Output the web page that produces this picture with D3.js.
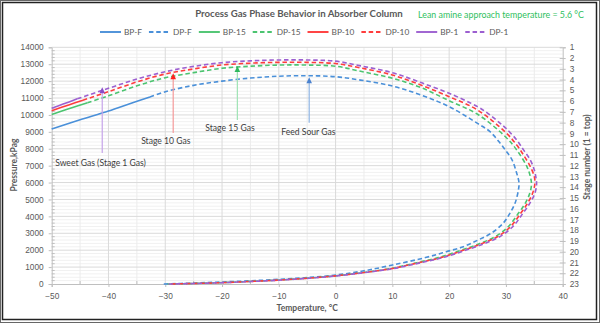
<!DOCTYPE html>
<html><head><meta charset="utf-8">
<script src="https://cdn.jsdelivr.net/npm/d3@7"></script>
<style>
body{margin:0;background:#fff;}
svg{display:block;font-family:Lato,"Liberation Sans",sans-serif;}
</style></head>
<body><svg id="c" width="600" height="323"></svg>
<script>
// ---------- data (temperature °C, pressure kPag) ----------
const seriesNames = ["BP-F","DP-F","BP-15","DP-15","BP-10","DP-10","BP-1","DP-1"];
const bpF = [[-50,9170],[-45,9710],[-40,10230],[-36,10690],[-32.7,11060]];
const dpF = [[-32.7,11060],[-30,11370],[-25,11750],[-20,12000],[-15,12180],[-10,12290],[-5,12320],[0,12260],[4.4,12060],[10,11710],[15,11180],[20,10490],[25,9500],[27.2,9010],[29,8320],[30,7880],[31.1,7330],[31.9,6550],[32.3,6000],[32.2,5560],[31.6,4773],[30.7,4182],[29.5,3590],[27.4,3000],[25.1,2602],[22.5,2206],[19.5,1910],[16,1577],[10,1120],[5,780],[0,530],[-5,380],[-10,275],[-15,190],[-20,120],[-25,55],[-30.4,0]];
const bp15 = [[-50,10030],[-47,10360],[-43.7,10720]];
const dp15 = [[-43.7,10720],[-40,11130],[-35,11720],[-30,12200],[-25,12500],[-20,12758],[-15,12880],[-10,12950],[-5,12950],[0,12880],[4.4,12580],[10,12170],[15,11620],[20,10840],[25,10040],[30,8680],[31.9,7930],[33.7,6940],[34.3,6350],[34.5,5900],[34.2,5365],[33.4,4773],[32.2,4182],[30.4,3389],[28.1,2798],[25.2,2366],[21.7,1950],[18.1,1560],[14.7,1290],[9.8,920],[4.9,680],[-0.1,480],[-5,345],[-10,235],[-15,155],[-20,82],[-25,32],[-29.6,0]];
const bp10 = [[-50,10250],[-47,10590],[-44.5,10870]];
const dp10 = [[-44.5,10870],[-40,11375],[-35,11950],[-30,12421],[-25,12720],[-20,12953],[-15,13060],[-10,13110],[-5,13110],[0,13040],[4.4,12780],[10,12360],[15,11770],[20,11080],[25,10290],[30,8950],[31.9,8220],[33.1,7630],[34.3,6940],[35,6350],[35.1,5950],[34.7,5365],[33.8,4773],[32.6,4182],[30.8,3389],[28.5,2798],[25.6,2366],[22.1,1950],[18.5,1560],[15,1290],[10,920],[5,680],[0,480],[-5,340],[-10,230],[-15,150],[-20,80],[-25,30],[-29.5,0]];
const bp1 = [[-50,10400],[-48,10640],[-45.5,10950]];
const dp1 = [[-45.5,10950],[-40,11575],[-35,12120],[-30,12557],[-25,12870],[-20,13089],[-15,13200],[-10,13250],[-5,13250],[0,13180],[4.4,12900],[10,12500],[15,11920],[20,11280],[25,10490],[27.2,10000],[29,9500],[30,9210],[31.9,8520],[33.1,7930],[34.3,7330],[35,6740],[35.3,6270],[35.4,5900],[35.1,5365],[34.2,4773],[33,4182],[31.2,3389],[28.9,2798],[26,2366],[22.5,1950],[18.9,1560],[15.4,1290],[10.3,920],[5.2,680],[0.2,480],[-5,335],[-10,225],[-15,145],[-20,78],[-25,28],[-29.4,0]];
const xTicks = [-50,-40,-30,-20,-10,0,10,20,30,40];
const yTicks = [0,1000,2000,3000,4000,5000,6000,7000,8000,9000,10000,11000,12000,13000,14000];
const stageTicks = d3.range(1,24);
// annotations: label, arrow x, arrow from/to pressure, text position
const annLabels = ["Sweet Gas (Stage 1 Gas)","Stage 10 Gas","Stage 15 Gas","Feed Sour Gas"];
const annArrowX = [-41.1,-28.6,-17.3,-4.65];
const annArrowFrom = [7750,8930,9700,9540];
const annArrowTo = [11640,12460,12900,12230];
const annTextX = [-41.4,-29.9,-18.6,-4.8];
const annTextY = [7175,8460,9210,9010];

// ---------- styles ----------
const colors = {F:"#4a90d9","15":"#4cc470","10":"#ff3c3c","1":"#9c5fd0"};
const arrowLine = ["#c6a4ea","#f49a9a","#9fe3b5","#8fb4e3"];
const arrowHead = ["#8a4cc8","#ff2020","#2fb85d","#4a82cf"];
const sw = 1.6, dash = "4.5,2.8";

const svg = d3.select("#c");
const x = d3.scaleLinear().domain([-50,40]).range([51.7,562.7]);
const y = d3.scaleLinear().domain([0,14000]).range([284,47.3]);
const ys = d3.scaleLinear().domain([1,23]).range([47.3,284]);

// frame
svg.append("rect").attr("x",0.5).attr("y",0.5).attr("width",599).attr("height",322).attr("fill","none").attr("stroke","#666").attr("stroke-width",1);
svg.append("rect").attr("x",2.5).attr("y",2.5).attr("width",594).attr("height",317).attr("fill","none").attr("stroke","#222").attr("stroke-width",1.5);

// gridlines
const g = svg.append("g");
g.selectAll(".hm").data(d3.range(0,14001,200).filter(v=>v%1000)).join("line")
 .attr("x1",x(-50)).attr("x2",x(40)).attr("y1",d=>y(d)).attr("y2",d=>y(d)).attr("stroke","#f1f1f1").attr("stroke-width",1);
g.selectAll(".vm").data(d3.range(-45,40,10)).join("line")
 .attr("y1",y(0)).attr("y2",y(14000)).attr("x1",d=>x(d)).attr("x2",d=>x(d)).attr("stroke","#ececec").attr("stroke-width",1);
g.selectAll(".hM").data(yTicks.slice(1)).join("line")
 .attr("x1",x(-50)).attr("x2",x(40)).attr("y1",d=>y(d)).attr("y2",d=>y(d)).attr("stroke","#dadada").attr("stroke-width",1);
g.selectAll(".vM").data(xTicks.slice(1,-1)).join("line")
 .attr("y1",y(0)).attr("y2",y(14000)).attr("x1",d=>x(d)).attr("x2",d=>x(d)).attr("stroke","#dadada").attr("stroke-width",1);

// axes
const axCol = "#bfbfbf", txtCol = "#595959";
const left = svg.append("g").attr("transform",`translate(${x(-50)},0)`)
 .call(d3.axisLeft(y).tickValues(yTicks).tickFormat(d3.format("d")).tickSize(3).tickPadding(5));
const bottom = svg.append("g").attr("transform",`translate(0,${y(0)})`)
 .call(d3.axisBottom(x).tickValues(xTicks).tickFormat(d3.format("d")).tickSize(3).tickPadding(6));
const right = svg.append("g").attr("transform",`translate(${x(40)},0)`)
 .call(d3.axisRight(ys).tickValues(stageTicks).tickFormat(d3.format("d")).tickSize(3).tickPadding(4));
[left,bottom,right].forEach(a=>{
  a.select(".domain").attr("stroke",axCol);
  a.selectAll(".tick line").attr("stroke",axCol);
  a.selectAll("text").attr("fill",txtCol).style("font-size","8.3px");
});
right.selectAll(".tick line").attr("x1",-3);
// minor ticks
svg.append("g").selectAll("line").data(d3.range(0,14001,200).filter(v=>v%1000)).join("line")
 .attr("x1",x(-50)).attr("x2",x(-50)+3).attr("y1",d=>y(d)).attr("y2",d=>y(d)).attr("stroke",axCol);
svg.append("g").selectAll("line").data(d3.range(-45,40,10)).join("line")
 .attr("x1",d=>x(d)).attr("x2",d=>x(d)).attr("y1",y(0)).attr("y2",y(0)-3).attr("stroke",axCol);

// curves
const line = d3.line().x(d=>x(d[0])).y(d=>y(d[1])).curve(d3.curveCatmullRom.alpha(0.5));
const curves = [
  [bpF,colors.F,false],[dpF,colors.F,true],
  [bp15,colors["15"],false],[dp15,colors["15"],true],
  [bp10,colors["10"],false],[dp10,colors["10"],true],
  [bp1,colors["1"],false],[dp1,colors["1"],true]];
const cg = svg.append("g");
curves.forEach(([d,c,ds])=>{
  cg.append("path").attr("d",line(d)).attr("fill","none").attr("stroke",c).attr("stroke-width",sw)
    .attr("stroke-dasharray",ds?dash:null);
});

// annotations
const ag = svg.append("g");
annLabels.forEach((lab,i)=>{
  const ax = x(annArrowX[i]), y0 = y(annArrowFrom[i]), y1 = y(annArrowTo[i]);
  ag.append("line").attr("x1",ax).attr("x2",ax).attr("y1",y0).attr("y2",y1+4).attr("stroke",arrowLine[i]).attr("stroke-width",1.2);
  ag.append("path").attr("d",`M${ax},${y1} L${ax-2.8},${y1+6} L${ax+2.8},${y1+6} Z`).attr("fill",arrowHead[i]);
  ag.append("text").attr("x",x(annTextX[i])).attr("y",y(annTextY[i])).attr("dy","0.35em")
    .attr("text-anchor","middle").attr("fill","#404040").style("font-size","8.6px").text(lab);
});

// fitting helper
function fit(t, w){ const l = t.node().getComputedTextLength(); const fs = parseFloat(t.style("font-size")); t.style("font-size",(fs*w/l)+"px"); }

// title
const title = svg.append("text").attr("x",299).attr("y",17).attr("text-anchor","middle")
 .attr("fill","#595959").style("font-weight","bold").style("font-size","10px").text("Process Gas Phase Behavior in Absorber Column");
fit(title,208);
const sub = svg.append("text").attr("x",501).attr("y",18).attr("text-anchor","middle")
 .attr("fill","#2fc060").style("font-size","10px").text("Lean amine approach temperature = 5.6 °C");
fit(sub,166);

// axis titles
const xt = svg.append("text").attr("x",(x(-50)+x(40))/2).attr("y",311).attr("text-anchor","middle")
 .attr("fill",txtCol).style("font-weight","bold").style("font-size","8.5px").text("Temperature, °C");
const ylt = svg.append("text").attr("transform",`translate(17,165) rotate(-90)`).attr("text-anchor","middle")
 .attr("fill",txtCol).style("font-weight","bold").style("font-size","8.5px").text("Pressure,kPag");
const yrt = svg.append("text").attr("transform",`translate(590,157) rotate(-90)`).attr("text-anchor","middle")
 .attr("fill",txtCol).style("font-weight","bold").style("font-size","8.5px").text("Stage number (1 = top)");

// legend
const lg = svg.append("g");
let lx = 100; const ly = 32;
seriesNames.forEach((n,i)=>{
  const c = curves[i][1], ds = curves[i][2];
  lg.append("line").attr("x1",lx).attr("x2",lx+21).attr("y1",ly).attr("y2",ly).attr("stroke",c).attr("stroke-width",sw+0.3)
    .attr("stroke-dasharray",ds?dash:null);
  const t = lg.append("text").attr("x",lx+24).attr("y",ly).attr("dy","0.35em").attr("fill",txtCol).style("font-size","8.3px").text(n);
  lx += 24 + t.node().getComputedTextLength() + 7;
});
</script></body></html>
